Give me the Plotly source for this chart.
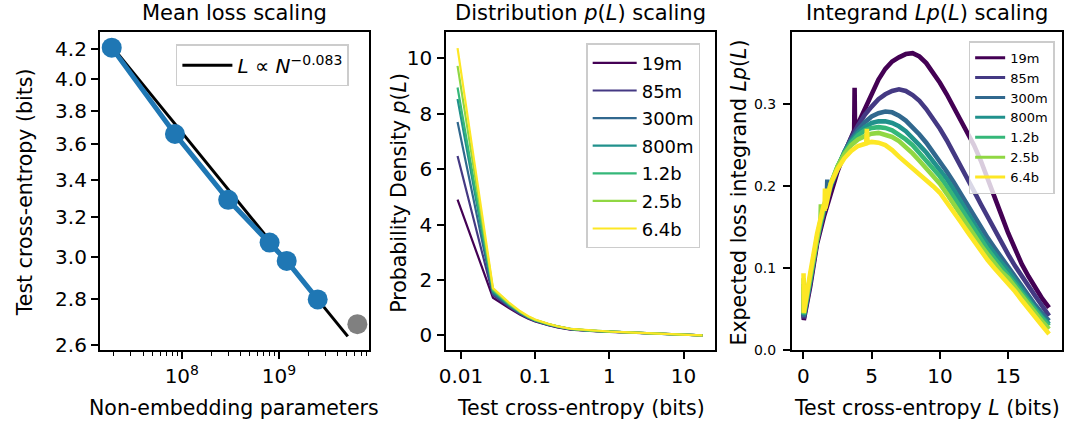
import plotly.graph_objects as go

W, H = 1068, 431
FONT = "DejaVu Sans"

# ---------------- data: left panel (mean loss scaling) ----------------
params = [19e6, 85e6, 300e6, 800e6, 1.2e9, 2.5e9]
mean_loss = [4.21, 3.66, 3.29, 3.07, 2.98, 2.80]
held_params = [6.4e9]
held_loss = [2.69]
fit_params = [1.9e7, 5.1e9]
fit_loss = [4.22, 2.637]
fit_label = "<i>L</i> ∝ <i>N</i><sup>−0.083</sup>"
x1_tickvals = [1e8, 1e9]
x1_ticktext = ["10<sup>8</sup>", "10<sup>9</sup>"]
x1_minor = [2e7, 3e7, 4e7, 5e7, 6e7, 7e7, 8e7, 9e7,
            2e8, 3e8, 4e8, 5e8, 6e8, 7e8, 8e8, 9e8,
            2e9, 3e9, 4e9, 5e9, 6e9, 7e9, 8e9]
y1_tickvals = [2.6, 2.8, 3.0, 3.2, 3.4, 3.6, 3.8, 4.0, 4.2]
y1_ticktext = ["2.6", "2.8", "3.0", "3.2", "3.4", "3.6", "3.8", "4.0", "4.2"]

# ---------------- data: models ----------------
models = ["19m", "85m", "300m", "800m", "1.2b", "2.5b", "6.4b"]
colors = ["#440154", "#443983", "#31688e", "#21918c", "#35b779", "#90d743", "#fde725"]

# ---------------- data: middle panel p(L) ----------------
pdf_x = [0.009, 0.027, 0.045, 0.063, 0.081, 0.1, 0.15, 0.2, 0.3, 0.5, 0.7, 1, 1.5, 2, 3, 5, 7, 10, 14, 18]
pdf_19m = [4.90, 1.36, 0.98, 0.74, 0.60, 0.50, 0.37, 0.29, 0.21, 0.156, 0.14, 0.13, 0.11, 0.098, 0.08, 0.063, 0.051, 0.033, 0.014, 0.003]
pdf_85m = [6.47, 1.45, 1.02, 0.77, 0.62, 0.52, 0.38, 0.30, 0.22, 0.17, 0.15, 0.135, 0.113, 0.1, 0.081, 0.06, 0.045, 0.027, 0.010, 0.0023]
pdf_300m = [7.70, 1.52, 1.06, 0.80, 0.64, 0.53, 0.39, 0.31, 0.225, 0.175, 0.153, 0.135, 0.115, 0.1, 0.081, 0.057, 0.041, 0.023, 0.0089, 0.002]
pdf_800m = [8.53, 1.58, 1.09, 0.82, 0.65, 0.54, 0.40, 0.315, 0.23, 0.178, 0.155, 0.135, 0.115, 0.1, 0.081, 0.055, 0.039, 0.022, 0.0084, 0.0018]
pdf_1_2b = [8.94, 1.62, 1.11, 0.83, 0.66, 0.55, 0.40, 0.32, 0.232, 0.18, 0.157, 0.137, 0.116, 0.101, 0.081, 0.054, 0.038, 0.021, 0.008, 0.0017]
pdf_2_5b = [9.72, 1.67, 1.14, 0.85, 0.67, 0.56, 0.41, 0.325, 0.235, 0.182, 0.158, 0.138, 0.117, 0.102, 0.08, 0.053, 0.036, 0.020, 0.0076, 0.0014]
pdf_6_4b = [10.36, 1.71, 1.17, 0.87, 0.69, 0.57, 0.42, 0.33, 0.24, 0.19, 0.162, 0.14, 0.117, 0.1, 0.078, 0.051, 0.034, 0.019, 0.007, 0.0011]
pdf_series = [pdf_19m, pdf_85m, pdf_300m, pdf_800m, pdf_1_2b, pdf_2_5b, pdf_6_4b]
x2_tickvals = [0.01, 0.1, 1, 10]
x2_ticktext = ["0.01", "0.1", "1", "10"]
y2_tickvals = [0, 2, 4, 6, 8, 10]

# ---------------- data: right panel L p(L) ----------------
lp_x = [0.009, 0.027, 0.5, 1.0, 1.5, 2.0, 2.5, 3.0, 3.5, 4.0, 4.5, 5.0, 5.5, 6.0, 6.5, 7.0, 7.5, 8.0, 8.5,
        9.0, 9.5, 10.0, 10.5, 11.0, 11.5, 12.0, 12.5, 13.0, 13.5, 14.0, 14.5, 15.0, 15.5, 16.0, 16.5,
        17.0, 17.5, 18.0]
lp_19m = [0.044, 0.037, 0.078, 0.130, 0.163, 0.193, 0.218, 0.240, 0.258, 0.276, 0.295, 0.313, 0.330, 0.343,
          0.352, 0.357, 0.361, 0.362, 0.358, 0.350, 0.339, 0.326, 0.312, 0.297, 0.282, 0.267, 0.250, 0.231,
          0.210, 0.188, 0.165, 0.143, 0.123, 0.105, 0.090, 0.076, 0.063, 0.052]
lp_85m = [0.058, 0.039, 0.082, 0.133, 0.168, 0.198, 0.222, 0.242, 0.259, 0.274, 0.287, 0.297, 0.306, 0.312,
          0.316, 0.318, 0.316, 0.311, 0.304, 0.294, 0.283, 0.270, 0.256, 0.241, 0.226, 0.210, 0.194, 0.178,
          0.162, 0.146, 0.131, 0.117, 0.103, 0.090, 0.078, 0.066, 0.054, 0.042]
lp_300m = [0.069, 0.041, 0.084, 0.135, 0.171, 0.200, 0.223, 0.242, 0.257, 0.269, 0.278, 0.285, 0.289, 0.291,
           0.290, 0.286, 0.280, 0.272, 0.263, 0.253, 0.242, 0.231, 0.218, 0.205, 0.191, 0.177, 0.163, 0.150,
           0.137, 0.125, 0.113, 0.102, 0.090, 0.078, 0.066, 0.055, 0.045, 0.036]
lp_800m = [0.077, 0.043, 0.086, 0.136, 0.172, 0.201, 0.223, 0.241, 0.255, 0.265, 0.272, 0.277, 0.279, 0.279,
           0.277, 0.273, 0.267, 0.259, 0.250, 0.241, 0.231, 0.221, 0.209, 0.196, 0.182, 0.168, 0.154, 0.141,
           0.129, 0.117, 0.107, 0.097, 0.085, 0.073, 0.062, 0.051, 0.041, 0.032]
lp_1_2b = [0.081, 0.044, 0.088, 0.138, 0.174, 0.202, 0.224, 0.241, 0.253, 0.262, 0.268, 0.271, 0.272, 0.271,
           0.268, 0.263, 0.257, 0.250, 0.241, 0.232, 0.222, 0.212, 0.200, 0.187, 0.174, 0.161, 0.147, 0.135,
           0.123, 0.112, 0.102, 0.093, 0.081, 0.070, 0.059, 0.048, 0.039, 0.030]
lp_2_5b = [0.088, 0.045, 0.090, 0.140, 0.176, 0.203, 0.224, 0.239, 0.250, 0.257, 0.261, 0.264, 0.265, 0.263,
           0.260, 0.255, 0.248, 0.240, 0.231, 0.222, 0.212, 0.203, 0.191, 0.178, 0.165, 0.153, 0.140, 0.128,
           0.117, 0.106, 0.096, 0.088, 0.077, 0.066, 0.055, 0.044, 0.035, 0.026]
lp_6_4b = [0.094, 0.046, 0.094, 0.142, 0.178, 0.203, 0.221, 0.234, 0.243, 0.249, 0.252, 0.254, 0.253, 0.250,
           0.244, 0.236, 0.229, 0.222, 0.214, 0.207, 0.200, 0.192, 0.181, 0.169, 0.157, 0.145, 0.133, 0.121,
           0.110, 0.100, 0.091, 0.083, 0.072, 0.061, 0.050, 0.040, 0.030, 0.020]
lp_series = [lp_19m, lp_85m, lp_300m, lp_800m, lp_1_2b, lp_2_5b, lp_6_4b]
# narrow noise spikes visible in the picture (x, y) per model
spike_x = {"19m": [3.72, 3.75, 3.78], "300m": [1.72, 1.75, 1.78], "2.5b": [1.25, 1.28, 1.31],
           "6.4b": [1.55, 1.58, 1.61, 4.60, 4.65, 4.70]}
spike_y = {"19m": [0.268, 0.320, 0.272], "300m": [0.188, 0.208, 0.190], "2.5b": [0.158, 0.178, 0.160],
           "6.4b": [0.170, 0.197, 0.173, 0.252, 0.270, 0.253]}
x3_tickvals = [0, 5, 10, 15]
y3_tickvals = [0.0, 0.1, 0.2, 0.3]
y3_ticktext = ["0.0", "0.1", "0.2", "0.3"]

# ---------------- figure ----------------
def fx(p):
    return p / W


def fy(p):
    return 1 - p / H


fig = go.Figure()

# left panel
fig.add_trace(go.Scatter(x=fit_params, y=fit_loss, mode="lines", name=fit_label,
                         line=dict(color="black", width=3), xaxis="x", yaxis="y", legend="legend"))
fig.add_trace(go.Scatter(x=params, y=mean_loss, mode="lines+markers", showlegend=False,
                         line=dict(color="#1f77b4", width=5),
                         marker=dict(color="#1f77b4", size=20), xaxis="x", yaxis="y"))
fig.add_trace(go.Scatter(x=held_params, y=held_loss, mode="markers", showlegend=False,
                         marker=dict(color="#808080", size=20), xaxis="x", yaxis="y"))

# middle panel
for name, col, ys in zip(models, colors, pdf_series):
    fig.add_trace(go.Scatter(x=pdf_x, y=ys, mode="lines", name=name, legendgroup="m" + name,
                             line=dict(color=col, width=2.2), xaxis="x2", yaxis="y2", legend="legend2"))

# right panel (noisy curves drawn thick; legend samples thinner)
for name, col, ys in zip(models, colors, lp_series):
    pts = list(zip(lp_x, ys)) + list(zip(spike_x.get(name, []), spike_y.get(name, [])))
    pts.sort(key=lambda t: t[0])
    fig.add_trace(go.Scatter(x=[p[0] for p in pts], y=[p[1] for p in pts], mode="lines", showlegend=False,
                             line=dict(color=col, width=4.6), xaxis="x3", yaxis="y3"))
for name, col in zip(models, colors):
    fig.add_trace(go.Scatter(x=[None], y=[None], mode="lines", name=name,
                             line=dict(color=col, width=3), xaxis="x3", yaxis="y3", legend="legend3"))

axis_common = dict(showline=True, mirror=True, linecolor="black", linewidth=1.6, ticks="outside",
                   ticklen=7, tickwidth=1.6, tickcolor="black", showgrid=False, zeroline=False,
                   tickfont=dict(family=FONT, size=20, color="black"))

top, bot = 33, 357
yd = [fy(bot), fy(top)]

fig.update_layout(
    width=W, height=H, margin=dict(l=0, r=0, t=0, b=0),
    paper_bgcolor="white", plot_bgcolor="white",
    font=dict(family=FONT, color="black"),
    xaxis=dict(axis_common, type="log", domain=[fx(93.3), fx(364.3)], range=[7.155, 9.925],
               tickmode="array", tickvals=x1_tickvals, ticktext=x1_ticktext, anchor="y",
               minor=dict(tickvals=x1_minor, ticks="outside", ticklen=4, tickwidth=1.2, tickcolor="black")),
    yaxis=dict(axis_common, type="log", domain=yd, range=[0.4113, 0.635], anchor="x",
               tickmode="array", tickvals=y1_tickvals, ticktext=y1_ticktext),
    xaxis2=dict(axis_common, type="log", domain=[fx(442), fx(713)], range=[-2.2, 1.428], anchor="y2",
                tickmode="array", tickvals=x2_tickvals, ticktext=x2_ticktext),
    yaxis2=dict(axis_common, domain=yd, range=[-0.54, 10.93], anchor="x2",
                tickmode="array", tickvals=y2_tickvals, ticklabelstandoff=1),
    xaxis3=dict(axis_common, domain=[fx(790), fx(1062)], range=[-0.85, 18.95], anchor="y3",
                tickmode="array", tickvals=x3_tickvals),
    yaxis3=dict(axis_common, domain=yd, range=[0, 0.3874], anchor="x3",
                tickmode="array", tickvals=y3_tickvals, ticktext=y3_ticktext, ticklabelstandoff=4,
                tickfont=dict(family=FONT, size=14, color="black")),
    legend=dict(x=fx(170), y=fy(45), xanchor="left", yanchor="top", itemwidth=50,
                entrywidth=128, entrywidthmode="pixels",
                bgcolor="rgba(255,255,255,0.8)", bordercolor="#cccccc", borderwidth=1.5,
                font=dict(family=FONT, size=20, color="black")),
    legend2=dict(x=fx(583), y=fy(44), xanchor="left", yanchor="top", itemwidth=44,
                 bgcolor="rgba(255,255,255,0.8)", bordercolor="#cccccc", borderwidth=1.5,
                 font=dict(family=FONT, size=18, color="black"), tracegroupgap=1.2),
    legend3=dict(x=fx(968), y=fy(42), xanchor="left", yanchor="top",
                 bgcolor="rgba(255,255,255,0.8)", bordercolor="#cccccc", borderwidth=1.5,
                 font=dict(family=FONT, size=13, color="black")),
)

def ann(text, x, y, size, angle=0):
    fig.add_annotation(text=text, x=fx(x), y=fy(y), xref="paper", yref="paper",
                       xanchor="center", yanchor="middle", showarrow=False, textangle=angle,
                       font=dict(family=FONT, size=size, color="black"))

# titles
ann("Mean loss scaling", 229, 13, 21)
ann("Distribution <i>p</i>(<i>L</i>) scaling", 577.5, 13, 21)
ann("Integrand <i>Lp</i>(<i>L</i>) scaling", 926, 13, 21)
# x axis titles
ann("Non-embedding parameters", 229, 416, 20.5)
ann("Test cross-entropy (bits)", 577.5, 416, 20.5)
ann("Test cross-entropy <i>L</i> (bits)", 926, 416, 20.5)
# y axis titles
ann("Test cross-entropy (bits)", 18, 196, 20.5, -90)
ann("Probability Density <i>p</i>(<i>L</i>)", 395, 196, 20.5, -90)
ann("Expected loss integrand <i>Lp</i>(<i>L</i>)", 737, 196, 20.5, -90)

fig.write_html("out.html")
